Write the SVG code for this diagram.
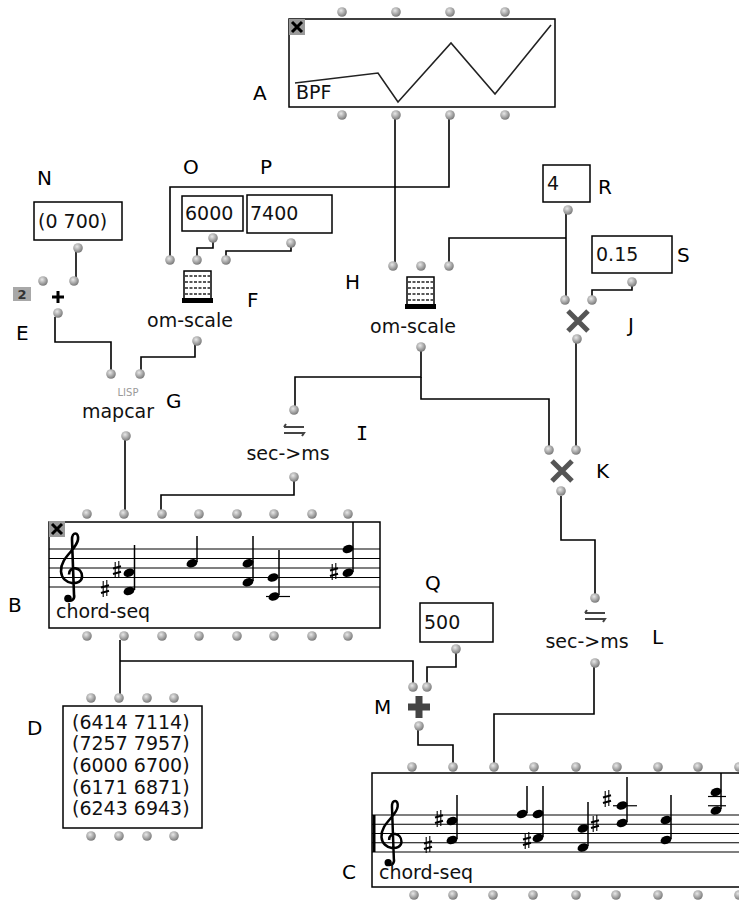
<svg xmlns="http://www.w3.org/2000/svg" xmlns:xlink="http://www.w3.org/1999/xlink" width="739" height="900" viewBox="0 0 739 900">
<style>
.box{fill:#fff;stroke:#000;stroke-width:1.5}
.w{fill:none;stroke:#000;stroke-width:1.6}
.dot{fill:url(#dg)}
.lbl{font-family:"DejaVu Sans",Verdana,sans-serif;font-size:20px;fill:#000}
.tx{font-family:"DejaVu Sans",Verdana,sans-serif;font-size:19px;fill:#111}
.fn{font-family:"DejaVu Sans",Verdana,sans-serif;font-size:19px;fill:#111;text-anchor:middle}
.st{stroke:#000;stroke-width:1.2}
.stem{stroke:#000;stroke-width:1.5}
.xi{stroke:#555;stroke-width:5;stroke-linecap:butt}
.eq{fill:none;stroke:#444;stroke-width:2}
</style>
<defs>
<radialGradient id="dg" cx="40%" cy="35%" r="65%">
<stop offset="0" stop-color="#e8e8e8"/>
<stop offset="1" stop-color="#7a7a7a"/>
</radialGradient>
<g id="clef">
<path d="M -3 22 C 1 25 4 21 3 17 L 1 -38 C 1 -46 8 -46 7 -38 C 6 -28 -11 -20 -10 -6 C -9 8 11 9 11 -1 C 11 -11 -2 -12 -2 -3" fill="none" stroke="#000" stroke-width="2.6"/>
<circle cx="-3" cy="21" r="3.8" fill="#000"/>
</g>
<g id="sh" stroke="#000" fill="none">
<path d="M-1.8 -8 V8 M1.8 -9 V7" stroke-width="1.1"/>
<path d="M-4 -1.5 L4 -3.8 M-4 4 L4 1.7" stroke-width="2.2"/>
</g>
<ellipse id="nh" rx="5.6" ry="4" transform="rotate(-20)" fill="#000"/>
<g id="abacus">
<rect x="2" y="1" width="27" height="28" fill="#fff" stroke="#000" stroke-width="1.5"/>
<path d="M3 6 H28 M3 12 H28 M3 18 H28 M3 24 H28" stroke="#222" stroke-width="1.6" stroke-dasharray="3 1.5"/>
<rect x="0" y="28" width="31" height="5" fill="#000"/>
</g>
<g id="closeic">
<rect x="0" y="0" width="16" height="16" fill="#9a9a9a"/>
<path d="M3 3 L13 13 M13 3 L3 13" stroke="#000" stroke-width="3"/>
</g>
<g id="xic"><path d="M-10 -10 L10 10 M10 -10 L-10 10" class="xi"/></g>
<g id="eqic"><path class="eq" d="M-10 -1 L-8 -4 M-10 -1 H10 M-10 5 H10 L8 8"/></g>
</defs>
<rect width="739" height="900" fill="#fff"/>

<g id="connectors">
<polyline class="w" points="395,119 395,262"/>
<polyline class="w" points="449,119 449,187 170,187 170,256"/>
<polyline class="w" points="566,214 566,296"/>
<polyline class="w" points="566,238 449,238 449,262"/>
<polyline class="w" points="632,286 632,290 592,290 592,296"/>
<polyline class="w" points="213,242 213,248 197,248 197,256"/>
<polyline class="w" points="291,247 291,251 226,251 226,256"/>
<polyline class="w" points="76,252 76,277"/>
<polyline class="w" points="55,317 55,342 111,342 111,370"/>
<polyline class="w" points="195,345 195,357 141,357 141,370"/>
<polyline class="w" points="125,440 125,510"/>
<polyline class="w" points="421,351 421,377 295,377 295,407"/>
<polyline class="w" points="421,377 421,399 549,399 549,446"/>
<polyline class="w" points="576,343 576,446"/>
<polyline class="w" points="294,481 294,495 161,495 161,510"/>
<polyline class="w" points="561,496 561,540 595,540 595,594"/>
<polyline class="w" points="120,640 120,694"/>
<polyline class="w" points="120,661 413,661 413,683"/>
<polyline class="w" points="456,653 456,667 427,667 427,683"/>
<polyline class="w" points="418,730 418,745 453,745 453,763"/>
<polyline class="w" points="594,667 594,714 494,714 494,763"/>
</g>

<g id="A">
<rect class="box" x="289" y="19" width="266" height="88"/>
<polyline fill="none" stroke="#222" stroke-width="1.6" points="295,83 378,73 398,102 451,43 495,94 551,25"/>
<text class="tx" x="296" y="99" font-size="18">BPF</text>
<use href="#closeic" x="289" y="19"/>
<circle class="dot" cx="342" cy="12" r="4.8"/><circle class="dot" cx="396" cy="12" r="4.8"/><circle class="dot" cx="450" cy="12" r="4.8"/><circle class="dot" cx="505" cy="12" r="4.8"/>
<circle class="dot" cx="342" cy="115" r="4.8"/><circle class="dot" cx="396" cy="115" r="4.8"/><circle class="dot" cx="450" cy="115" r="4.8"/><circle class="dot" cx="505" cy="115" r="4.8"/>
<text class="lbl" x="253" y="100">A</text>
</g>

<g id="N">
<rect class="box" x="34" y="202" width="88" height="38"/>
<text class="tx" x="38" y="228">(0 700)</text>
<circle class="dot" cx="78" cy="248" r="4.8"/>
<text class="lbl" x="37" y="185">N</text>
</g>

<g id="O">
<rect class="box" x="182" y="196" width="61" height="35"/>
<text class="tx" x="185" y="220">6000</text>
<circle class="dot" cx="213" cy="238" r="4.8"/>
<text class="lbl" x="183" y="174">O</text>
</g>

<g id="P">
<rect class="box" x="247" y="195" width="85" height="38"/>
<text class="tx" x="250" y="220">7400</text>
<circle class="dot" cx="291" cy="243" r="4.8"/>
<text class="lbl" x="260" y="174">P</text>
</g>

<g id="E">
<rect x="13" y="287" width="18" height="14" fill="#a8a8a8"/>
<text x="22" y="299" font-family="DejaVu Sans,sans-serif" font-size="13" font-weight="bold" fill="#333" text-anchor="middle">2</text>
<path d="M52 297 H64 M58 291 V303" stroke="#000" stroke-width="3"/>
<circle class="dot" cx="43" cy="281" r="4.8"/><circle class="dot" cx="74" cy="281" r="4.8"/>
<circle class="dot" cx="58" cy="313" r="4.8"/>
<text class="lbl" x="16" y="340">E</text>
</g>

<g id="F">
<circle class="dot" cx="170" cy="260" r="4.8"/><circle class="dot" cx="197" cy="260" r="4.8"/><circle class="dot" cx="226" cy="260" r="4.8"/>
<use href="#abacus" x="182" y="270"/>
<text class="fn" x="190" y="327">om-scale</text>
<circle class="dot" cx="197" cy="341" r="4.8"/>
<text class="lbl" x="247" y="307">F</text>
</g>

<g id="G">
<circle class="dot" cx="111" cy="374" r="4.8"/><circle class="dot" cx="140" cy="374" r="4.8"/>
<text x="128" y="396" font-family="DejaVu Sans,sans-serif" font-size="10" fill="#9a9a9a" text-anchor="middle">LISP</text>
<text class="fn" x="118" y="418">mapcar</text>
<circle class="dot" cx="126" cy="436" r="4.8"/>
<text class="lbl" x="166" y="408">G</text>
</g>

<g id="H">
<circle class="dot" cx="393" cy="266" r="4.8"/><circle class="dot" cx="421" cy="266" r="4.8"/><circle class="dot" cx="449" cy="266" r="4.8"/>
<use href="#abacus" x="405" y="276"/>
<text class="fn" x="413" y="333">om-scale</text>
<circle class="dot" cx="421" cy="347" r="4.8"/>
<text class="lbl" x="345" y="289">H</text>
</g>

<g id="R">
<rect class="box" x="543" y="165" width="47" height="37"/>
<text class="tx" x="547" y="190">4</text>
<circle class="dot" cx="568" cy="210" r="4.8"/>
<text class="lbl" x="598" y="194">R</text>
</g>

<g id="S">
<rect class="box" x="592" y="236" width="80" height="37"/>
<text class="tx" x="596" y="261">0.15</text>
<circle class="dot" cx="632" cy="282" r="4.8"/>
<text class="lbl" x="677" y="262">S</text>
</g>

<g id="J">
<circle class="dot" cx="565" cy="300" r="4.8"/><circle class="dot" cx="592" cy="300" r="4.8"/>
<use href="#xic" x="578" y="321"/>
<circle class="dot" cx="577" cy="339" r="4.8"/>
<text class="lbl" x="628" y="332">J</text>
</g>

<g id="I">
<circle class="dot" cx="294" cy="410" r="4.8"/>
<use href="#eqic" x="294" y="428"/>
<text class="fn" x="288" y="460">sec-&gt;ms</text>
<circle class="dot" cx="294" cy="477" r="4.8"/>
<text x="356" y="440" font-family="DejaVu Sans Mono,monospace" font-size="20" fill="#000">I</text>
</g>

<g id="K">
<circle class="dot" cx="549" cy="450" r="4.8"/><circle class="dot" cx="576" cy="450" r="4.8"/>
<use href="#xic" x="562" y="471"/>
<circle class="dot" cx="561" cy="491" r="4.8"/>
<text class="lbl" x="596" y="478">K</text>
</g>

<g id="B">
<rect class="box" x="49" y="522" width="331" height="106"/>
<path class="st" d="M49 549 H380 M49 558.5 H380 M49 568 H380 M49 577.5 H380 M49 587 H380"/>
<use href="#clef" transform="translate(71,577.5)"/>
<use href="#sh" x="105" y="589"/><use href="#sh" x="117" y="570"/>
<use href="#nh" x="129" y="572.75"/><use href="#nh" x="129" y="591"/>
<line class="stem" x1="134.5" y1="590" x2="134.5" y2="545"/>
<use href="#nh" x="192" y="563.25"/>
<line class="stem" x1="197" y1="562" x2="197" y2="536"/>
<use href="#nh" x="248" y="563.25"/><use href="#nh" x="248" y="582.25"/>
<line class="stem" x1="253" y1="581" x2="253" y2="536"/>
<use href="#nh" x="273" y="577.5"/><use href="#nh" x="274" y="596.5"/>
<line class="st" x1="266" y1="596.5" x2="290" y2="596.5"/>
<line class="stem" x1="279" y1="595" x2="279" y2="550"/>
<use href="#sh" x="334" y="572"/>
<use href="#nh" x="348" y="572.75"/><use href="#nh" x="348" y="549"/>
<line class="stem" x1="353" y1="572" x2="353" y2="522"/>
<text class="tx" x="56" y="618" font-size="19">chord-seq</text>
<use href="#closeic" x="49" y="521"/>
<circle class="dot" cx="87" cy="514" r="4.8"/><circle class="dot" cx="124" cy="514" r="4.8"/><circle class="dot" cx="162" cy="514" r="4.8"/><circle class="dot" cx="199" cy="514" r="4.8"/><circle class="dot" cx="237" cy="514" r="4.8"/><circle class="dot" cx="274" cy="514" r="4.8"/><circle class="dot" cx="312" cy="514" r="4.8"/><circle class="dot" cx="348" cy="514" r="4.8"/>
<circle class="dot" cx="87" cy="636" r="4.8"/><circle class="dot" cx="124" cy="636" r="4.8"/><circle class="dot" cx="162" cy="636" r="4.8"/><circle class="dot" cx="199" cy="636" r="4.8"/><circle class="dot" cx="237" cy="636" r="4.8"/><circle class="dot" cx="274" cy="636" r="4.8"/><circle class="dot" cx="312" cy="636" r="4.8"/><circle class="dot" cx="348" cy="636" r="4.8"/>
<text class="lbl" x="8" y="612">B</text>
</g>

<g id="D">
<circle class="dot" cx="91" cy="698" r="4.8"/><circle class="dot" cx="119" cy="698" r="4.8"/><circle class="dot" cx="147" cy="698" r="4.8"/><circle class="dot" cx="174" cy="698" r="4.8"/>
<rect class="box" x="63" y="706" width="139" height="122"/>
<text class="tx" x="72" y="729">(6414 7114)</text>
<text class="tx" x="72" y="750">(7257 7957)</text>
<text class="tx" x="72" y="772">(6000 6700)</text>
<text class="tx" x="72" y="794">(6171 6871)</text>
<text class="tx" x="72" y="815">(6243 6943)</text>
<circle class="dot" cx="91" cy="836" r="4.8"/><circle class="dot" cx="119" cy="836" r="4.8"/><circle class="dot" cx="147" cy="836" r="4.8"/><circle class="dot" cx="174" cy="836" r="4.8"/>
<text class="lbl" x="27" y="735">D</text>
</g>

<g id="Q">
<rect class="box" x="420" y="603" width="73" height="39"/>
<text class="tx" x="424" y="629">500</text>
<circle class="dot" cx="456" cy="649" r="4.8"/>
<text class="lbl" x="425" y="590">Q</text>
</g>

<g id="M">
<circle class="dot" cx="413" cy="687" r="4.8"/><circle class="dot" cx="427" cy="687" r="4.8"/>
<path d="M408 707 H430 M419 696 V718" stroke="#444" stroke-width="7"/>
<circle class="dot" cx="419" cy="726" r="4.8"/>
<text class="lbl" x="374" y="714">M</text>
</g>

<g id="L">
<circle class="dot" cx="595" cy="598" r="4.8"/>
<use href="#eqic" x="595" y="614"/>
<text class="fn" x="587" y="648">sec-&gt;ms</text>
<circle class="dot" cx="595" cy="663" r="4.8"/>
<text class="lbl" x="652" y="644">L</text>
</g>

<g id="C">
<rect class="box" x="372" y="773" width="380" height="114"/>
<path class="st" d="M372 815 H739 M372 824.25 H739 M372 833.5 H739 M372 842.75 H739 M372 852 H739"/>
<line x1="374" y1="815" x2="374" y2="852" stroke="#000" stroke-width="3"/>
<use href="#clef" transform="translate(391,842.75) scale(0.95)"/>
<use href="#sh" x="428" y="845"/><use href="#sh" x="439" y="819"/>
<use href="#nh" x="452" y="821"/><use href="#nh" x="452" y="840"/>
<line class="stem" x1="457" y1="839" x2="457" y2="795"/>
<use href="#nh" x="522" y="814"/>
<line class="stem" x1="527" y1="813" x2="527" y2="786"/>
<use href="#sh" x="527" y="841"/>
<use href="#nh" x="538" y="814"/><use href="#nh" x="538" y="838"/>
<line class="stem" x1="543" y1="837" x2="543" y2="786"/>
<use href="#nh" x="583" y="828.5"/><use href="#nh" x="583" y="847.5"/>
<line class="stem" x1="588" y1="846" x2="588" y2="802"/>
<use href="#sh" x="595" y="824"/>
<use href="#sh" x="607" y="799"/>
<use href="#nh" x="622" y="805.5"/><use href="#nh" x="622" y="823"/>
<line class="st" x1="613" y1="805.75" x2="637" y2="805.75"/>
<line class="stem" x1="627" y1="822" x2="627" y2="777"/>
<use href="#nh" x="666" y="820"/><use href="#nh" x="666" y="840"/>
<line class="stem" x1="671" y1="839" x2="671" y2="795"/>
<use href="#nh" x="716" y="792"/><use href="#nh" x="716" y="810.5"/>
<line class="st" x1="708" y1="796.5" x2="726" y2="796.5"/>
<line class="st" x1="708" y1="805.75" x2="726" y2="805.75"/>
<line class="stem" x1="721" y1="809" x2="721" y2="773"/>
<text class="tx" x="379" y="879">chord-seq</text>
<circle class="dot" cx="412" cy="767" r="4.8"/><circle class="dot" cx="453" cy="767" r="4.8"/><circle class="dot" cx="494" cy="767" r="4.8"/><circle class="dot" cx="534" cy="767" r="4.8"/><circle class="dot" cx="576" cy="767" r="4.8"/><circle class="dot" cx="617" cy="767" r="4.8"/><circle class="dot" cx="658" cy="767" r="4.8"/><circle class="dot" cx="698" cy="767" r="4.8"/><circle class="dot" cx="739" cy="767" r="4.8"/>
<circle class="dot" cx="414" cy="895" r="4.8"/><circle class="dot" cx="453" cy="895" r="4.8"/><circle class="dot" cx="493" cy="895" r="4.8"/><circle class="dot" cx="533" cy="895" r="4.8"/><circle class="dot" cx="576" cy="895" r="4.8"/><circle class="dot" cx="616" cy="895" r="4.8"/><circle class="dot" cx="658" cy="895" r="4.8"/><circle class="dot" cx="698" cy="895" r="4.8"/><circle class="dot" cx="739" cy="895" r="4.8"/>
<text class="lbl" x="342" y="879">C</text>
</g>
</svg>
